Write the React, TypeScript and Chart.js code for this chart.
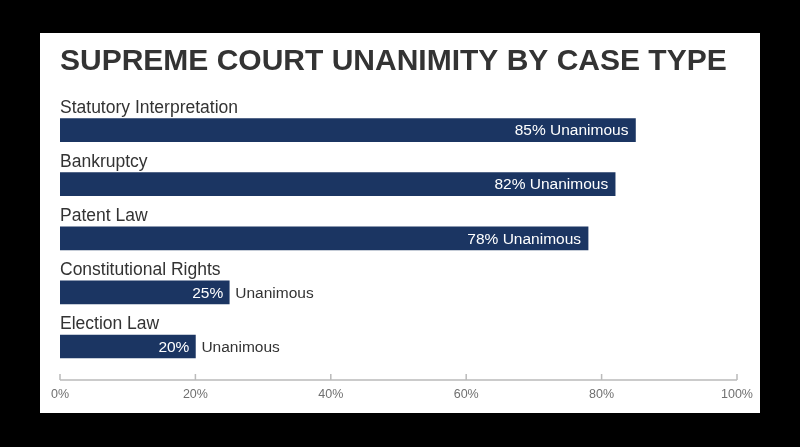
import React, { useEffect, useRef } from "react";
import { Chart, registerables } from "chart.js";

Chart.register(...registerables);

const title = "SUPREME COURT UNANIMITY BY CASE TYPE";
const categories = [
  "Statutory Interpretation",
  "Bankruptcy",
  "Patent Law",
  "Constitutional Rights",
  "Election Law",
];
const values = [85, 82, 78, 25, 20];
const valueSuffix = "Unanimous";
const xMin = 0;
const xMax = 100;
const xStep = 20;

const FONT = "'Liberation Sans', Arial, sans-serif";
const BAR_COLOR = "#1b3562";
const TEXT_DARK = "#333333";

const labelsPlugin = {
  id: "barLabels",
  afterDatasetsDraw(chart: any) {
    const ctx = chart.ctx;
    const meta = chart.getDatasetMeta(0);
    const area = chart.chartArea;
    ctx.save();
    meta.data.forEach((bar: any, i: number) => {
      const props = bar.getProps(["x", "y", "base", "height"], true);
      const top = props.y - props.height / 2;
      // category label above bar
      ctx.font = `400 17.5px ${FONT}`;
      ctx.fillStyle = TEXT_DARK;
      ctx.textAlign = "left";
      ctx.textBaseline = "alphabetic";
      ctx.fillText(categories[i], area.left, top - 6);
      // value label
      ctx.font = `400 15.5px ${FONT}`;
      ctx.textBaseline = "middle";
      const pct = `${values[i]}%`;
      const full = `${pct} ${valueSuffix}`;
      if (values[i] >= 50) {
        ctx.fillStyle = "#ffffff";
        ctx.textAlign = "right";
        ctx.fillText(full, props.x - 7, props.y + 1);
      } else {
        ctx.fillStyle = "#ffffff";
        ctx.textAlign = "right";
        ctx.fillText(pct, props.x - 6, props.y + 1);
        ctx.fillStyle = TEXT_DARK;
        ctx.textAlign = "left";
        ctx.fillText(valueSuffix, props.x + 6, props.y + 1);
      }
    });
    ctx.restore();
  },
};

const axisPlugin = {
  id: "axisLine",
  afterDraw(chart: any) {
    const ctx = chart.ctx;
    const xs = chart.scales.x;
    const y = chart.chartArea.bottom + 6.5;
    ctx.save();
    ctx.strokeStyle = "#bbbbbb";
    ctx.lineWidth = 1.5;
    ctx.beginPath();
    ctx.moveTo(xs.getPixelForValue(xMin), y);
    ctx.lineTo(xs.getPixelForValue(xMax), y);
    xs.ticks.forEach((t: any) => {
      const px = xs.getPixelForValue(t.value);
      ctx.moveTo(px, y);
      ctx.lineTo(px, y - 6);
    });
    ctx.stroke();
    ctx.restore();
  },
};

export default function App() {
  const ref = useRef<HTMLCanvasElement | null>(null);
  useEffect(() => {
    if (!ref.current) return;
    const chart = new Chart(ref.current, {
      type: "bar",
      data: {
        labels: categories,
        datasets: [
          {
            data: values,
            backgroundColor: BAR_COLOR,
            borderWidth: 0,
            barThickness: 23,
          },
        ],
      },
      options: {
        indexAxis: "y",
        animation: false,
        responsive: false,
        maintainAspectRatio: false,
        layout: { padding: { left: 20, right: 23, top: 0, bottom: 0 } },
        plugins: {
          legend: { display: false },
          tooltip: { enabled: false },
          title: {
            display: true,
            text: title,
            align: "start",
            color: TEXT_DARK,
            font: { family: FONT, size: 30, weight: "bold" },
            padding: { top: 11, bottom: 23 },
          },
        },
        scales: {
          y: { display: false },
          x: {
            min: xMin,
            max: xMax,
            border: { display: false },
            grid: { display: false, drawTicks: false },
            afterFit: (s: any) => {
              s.paddingLeft = 0;
              s.paddingRight = 0;
              s.height = 39.4;
            },
            ticks: {
              stepSize: xStep,
              padding: 13,
              color: "#707070",
              font: { family: FONT, size: 12.5 },
              callback: (v: any) => `${v}%`,
            },
          },
        },
      },
      plugins: [labelsPlugin, axisPlugin],
    });
    return () => chart.destroy();
  }, []);

  return (
    <div
      style={{
        position: "fixed",
        left: 0,
        top: 0,
        width: 800,
        height: 447,
        background: "#000",
      }}
    >
      <div
        style={{
          position: "absolute",
          left: 40,
          top: 33,
          width: 720,
          height: 380,
          background: "#fff",
        }}
      >
        <canvas ref={ref} width={720} height={380} style={{ display: "block" }} />
      </div>
    </div>
  );
}
